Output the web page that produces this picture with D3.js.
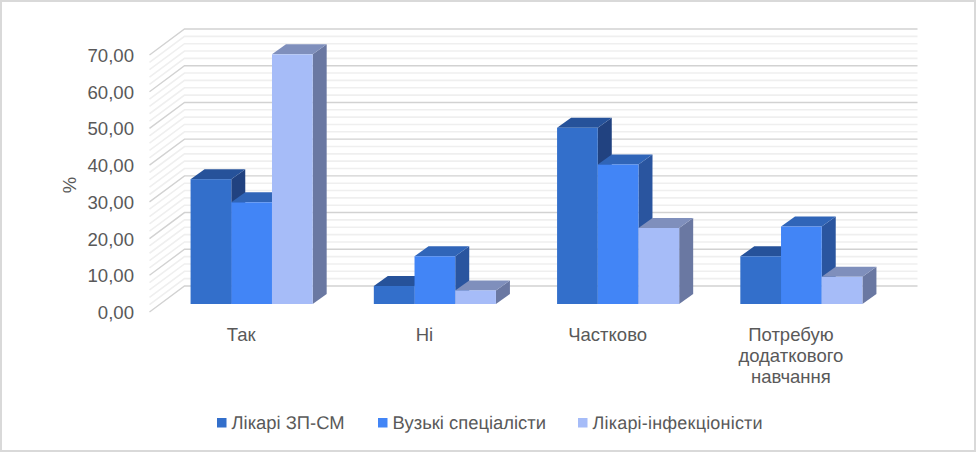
<!DOCTYPE html>
<html><head><meta charset="utf-8">
<script src="https://cdn.jsdelivr.net/npm/d3@7"></script>
<style>html,body{margin:0;padding:0;background:#fff}svg{display:block}text{font-family:"Liberation Sans",Arial,sans-serif;fill:#595959}.lg{text-rendering:geometricPrecision}</style>
</head><body><svg id="c" width="976" height="452"></svg>
<script>
const categories = [["Так"],["Ні"],["Частково"],["Потребую","додаткового","навчання"]];
const seriesNames = ["Лікарі ЗП-СМ","Вузькі спеціалісти","Лікарі-інфекціоністи"];
const doctorsGP = [34, 4.9, 48, 13];
const specialists = [27.7, 13, 38, 21.1];
const infectious = [68, 3.7, 20.7, 7.4];
const yTicks = [0,10,20,30,40,50,60,70];
const minorTicks = d3.range(0,71,2);
const frontColors = ["#336fcb","#4285f6","#a6bcf8"];
const topColors = ["#26529a","#3065b8","#7f8fbc"];
const sideColors = ["#214280","#2a559f","#6a78a2"];

const W=976,H=452;
const svg=d3.select("#c");
svg.append("rect").attr("width",W).attr("height",H).attr("fill","#fff");
svg.append("rect").attr("x",1).attr("y",1).attr("width",W-2).attr("height",H-2).attr("fill","none").attr("stroke","#d9d9d9").attr("stroke-width",2);

const depthX=35, depthY=26;
const yWall=d3.scaleLinear().domain([0,70]).range([312,55]);
const yBar=d3.scaleLinear().domain([0,70]).range([304,47]);
const xLeft=149.5, xRight=882.5;
const xCat=d3.scaleBand().domain(d3.range(categories.length)).range([xLeft,xRight]);
const barW=40.7, bdx=14, bdy=10, groupShift=10.5;
const xInner=d3.scaleBand().domain(d3.range(3)).range([-barW*1.5,barW*1.5]);

const g=svg.append("g").attr("fill","none");
minorTicks.forEach(t=>{
  const major=t%10===0;
  const y=yWall(t);
  g.append("path")
   .attr("d",`M${xLeft},${y}L${xLeft+depthX},${y-depthY}L${xRight+depthX},${y-depthY}`)
   .attr("stroke",major?"#d2d2d2":"#efefef")
   .attr("stroke-width",major?1.4:1.6);
});

yTicks.forEach(t=>{
  svg.append("text").attr("x",134).attr("y",yWall(t)+7).attr("text-anchor","end")
    .attr("font-size",18.6).text(d3.format(".2f")(t).replace(".",","));
});
svg.append("text").attr("transform","translate(76,185) rotate(-90)").attr("text-anchor","middle")
  .attr("font-size",18.5).text("%");

const series=[doctorsGP,specialists,infectious];
function drawBar(x,v,s){
  const y0=yBar(0), y1=yBar(v), w=xInner.bandwidth();
  const b=svg.append("g");
  b.append("path").attr("d",`M${x+w},${y1}L${x+w+bdx},${y1-bdy}L${x+w+bdx},${y0-bdy}L${x+w},${y0}Z`).attr("fill",sideColors[s]);
  b.append("path").attr("d",`M${x},${y1}L${x+bdx},${y1-bdy}L${x+w+bdx},${y1-bdy}L${x+w},${y1}Z`).attr("fill",topColors[s]);
  b.append("rect").attr("x",x).attr("y",y1).attr("width",w).attr("height",y0-y1).attr("fill",frontColors[s]);
}
categories.forEach((c,i)=>{
  const cx=xCat(i)+xCat.bandwidth()/2+groupShift;
  series.forEach((vals,s)=>drawBar(cx+xInner(s),vals[i],s));
});

categories.forEach((lines,i)=>{
  const cx=xCat(i)+xCat.bandwidth()/2;
  lines.forEach((l,k)=>{
    svg.append("text").attr("x",cx).attr("y",341+k*21).attr("text-anchor","middle").attr("font-size",18.5).text(l);
  });
});

const legendX=[217,378,578];
const legendSize=[18.4,18.4,18];
const legendSpacing=[0,0,0.2];
seriesNames.forEach((n,i)=>{
  svg.append("rect").attr("x",legendX[i]).attr("y",418).attr("width",9.5).attr("height",9.5).attr("fill",frontColors[i]);
  svg.append("text").attr("class","lg").attr("x",legendX[i]+14.5).attr("y",429).attr("font-size",legendSize[i])
    .attr("letter-spacing",legendSpacing[i]).text(n);
});
</script></body></html>
